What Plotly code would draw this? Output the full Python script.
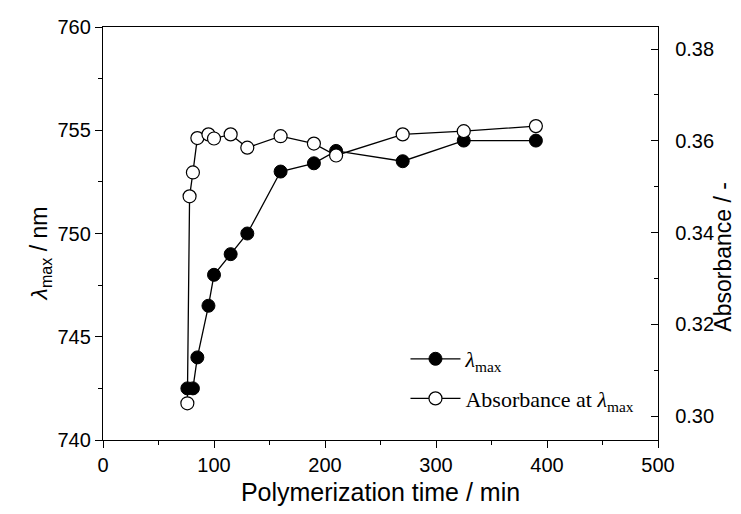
import plotly.graph_objects as go

# Data
time_lam = [76, 81, 85, 95, 100, 115, 130, 160, 190, 210, 270, 325, 390]
lam_max = [742.5, 742.5, 744.0, 746.5, 748.0, 749.0, 750.0, 753.0, 753.4, 754.0, 753.5, 754.5, 754.5]

time_abs = [76, 78, 81, 85, 95, 100, 115, 130, 160, 190, 210, 270, 325, 390]
absorb = [0.3028, 0.3479, 0.3531, 0.3606, 0.3614, 0.3605, 0.3614, 0.3585, 0.3610, 0.3594, 0.3568, 0.3614, 0.3621, 0.3632]

x_ticks = [0, 100, 200, 300, 400, 500]
y_ticks = [740, 745, 750, 755, 760]
y2_ticks = [0.30, 0.32, 0.34, 0.36, 0.38]

fig = go.Figure()
fig.add_trace(go.Scatter(
    x=time_lam, y=lam_max, mode="lines+markers",
    name="<i>λ</i><sub>max</sub>", legendgroup="a",
    line=dict(color="black", width=1.3),
    marker=dict(symbol="circle", size=13, color="black", line=dict(color="black", width=1)),
))
fig.add_trace(go.Scatter(
    x=time_abs, y=absorb, mode="lines+markers", yaxis="y2",
    name="Absorbance at <i>λ</i><sub>max</sub>", legendgroup="b",
    line=dict(color="black", width=1.3),
    marker=dict(symbol="circle", size=13, color="white", line=dict(color="black", width=1.2)),
))

axis_font = dict(family="Liberation Sans, Arial", size=20, color="black")
title_font = dict(family="Liberation Sans, Arial", size=25, color="black")
fig.update_layout(
    width=741, height=514,
    margin=dict(l=103, r=83, t=27, b=74, autoexpand=False),
    paper_bgcolor="white", plot_bgcolor="white",
    showlegend=True,
    legend=dict(
        x=0.545, y=0.247, xanchor="left", yanchor="top",
        bgcolor="rgba(0,0,0,0)",
        font=dict(family="Liberation Serif, Times New Roman", size=22, color="black"),
        traceorder="grouped", tracegroupgap=8, itemwidth=50,
    ),
    xaxis=dict(
        range=[0, 500], tickvals=x_ticks, ticks="outside", ticklen=7, tickwidth=1.2,
        tickcolor="black", showline=True, linecolor="black", linewidth=1.3, mirror=True,
        showgrid=False, zeroline=False, tickfont=axis_font, automargin=False,
        minor=dict(dtick=50, ticks="outside", ticklen=4, tickcolor="black", tickwidth=1),
        title=dict(text="Polymerization time / min", font=title_font, standoff=8),
    ),
    yaxis=dict(
        range=[740, 760], tickvals=y_ticks, ticks="outside", ticklen=7, tickwidth=1.2,
        tickcolor="black", showline=True, linecolor="black", linewidth=1.3,
        showgrid=False, zeroline=False, tickfont=axis_font, automargin=False,
        minor=dict(dtick=2.5, ticks="outside", ticklen=4, tickcolor="black", tickwidth=1),
    ),
    yaxis2=dict(
        range=[0.2948, 0.3848], tickvals=y2_ticks, tickformat=".2f", overlaying="y", side="right",
        ticks="inside", ticklen=7, tickwidth=1.2, tickcolor="black", ticklabelstandoff=12,
        showline=True, linecolor="black", linewidth=1.3, automargin=False,
        showgrid=False, zeroline=False, tickfont=axis_font,
        minor=dict(dtick=0.01, ticks="inside", ticklen=4, tickcolor="black", tickwidth=1),
    ),
    annotations=[
        dict(text="<i>λ</i><sub>max</sub> / nm", textangle=-90, xref="paper", yref="paper",
             x=-0.113, y=0.45, xanchor="center", yanchor="middle", showarrow=False,
             font=dict(family="Liberation Sans, Arial", size=23, color="black")),
        dict(text="Absorbance / -", textangle=-90, xref="paper", yref="paper",
             x=1.118, y=0.445, xanchor="center", yanchor="middle", showarrow=False,
             font=dict(family="Liberation Sans, Arial", size=23, color="black")),
    ],
)

fig.write_html("out.html")
